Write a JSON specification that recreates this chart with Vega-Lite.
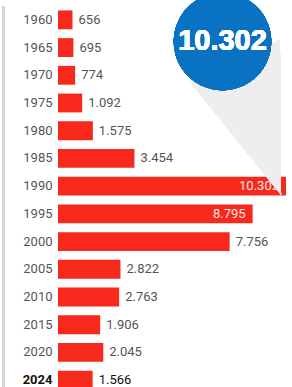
{
  "$schema": "https://vega.github.io/schema/vega-lite/v6.json",
  "width": 228,
  "height": 388,
  "autosize": "none",
  "padding": {"left": 58, "top": 6, "right": 6, "bottom": 0},
  "background": "white",
  "title": {
    "text": "Cifra en cantidad de casos",
    "anchor": "start", "frame": "group", "dx": -36, "offset": 4,
    "baseline": "alphabetic", "font": "Roboto", "fontSize": 11, "fontWeight": "normal", "color": "#777777"
  },
  "config": {
    "view": {"stroke": null},
    "locale": {"number": {"decimal": ",", "thousands": ".", "grouping": [3], "currency": ["", "€"]}}
  },
  "data": {
    "values": [
      {"year": "1960", "casos": 656},
      {"year": "1965", "casos": 695},
      {"year": "1970", "casos": 774},
      {"year": "1975", "casos": 1092},
      {"year": "1980", "casos": 1575},
      {"year": "1985", "casos": 3454},
      {"year": "1990", "casos": 10302},
      {"year": "1995", "casos": 8795},
      {"year": "2000", "casos": 7756},
      {"year": "2005", "casos": 2822},
      {"year": "2010", "casos": 2763},
      {"year": "2015", "casos": 1906},
      {"year": "2020", "casos": 2045},
      {"year": "2024", "casos": 1566}
    ]
  },
  "encoding": {
    "y": {
      "field": "year", "type": "nominal", "sort": null,
      "scale": {"paddingInner": 0.32, "paddingOuter": 0.16},
      "axis": {
        "title": null, "domain": false, "ticks": false, "tickSize": 0,
        "labelPadding": 6,
        "labelFont": "Roboto", "labelFontSize": 13,
        "labelColor": {"condition": {"test": "datum.value == '2024'", "value": "#111111"}, "value": "#555555"},
        "labelFontWeight": {"condition": {"test": "datum.value == '2024'", "value": "bold"}, "value": "normal"}
      }
    },
    "x": {
      "field": "casos", "type": "quantitative",
      "scale": {"domain": [0, 10302], "nice": false},
      "axis": null
    }
  },
  "layer": [
    {
      "mark": {"type": "rule", "color": "#d6d6d6", "strokeWidth": 1.5},
      "encoding": {"x": {"datum": -2460}, "y": null}
    },
    {"mark": {"type": "bar", "color": "#f7281c"}},
    {
      "transform": [{"filter": "datum.casos < 8000"}],
      "mark": {"type": "text", "align": "left", "dx": 6, "font": "Roboto", "fontSize": 13},
      "encoding": {
        "text": {"field": "casos", "type": "quantitative", "format": ",d"},
        "color": {"condition": {"test": "datum.year == '2024'", "value": "#111111"}, "value": "#555555"},
        "fontWeight": {"condition": {"test": "datum.year == '2024'", "value": "bold"}, "value": "normal"}
      }
    },
    {
      "transform": [{"filter": "datum.casos >= 8000"}],
      "mark": {"type": "text", "align": "right", "dx": -7, "font": "Roboto", "fontSize": 13, "color": "#ffe9e6"},
      "encoding": {
        "text": {"field": "casos", "type": "quantitative", "format": ",d"}
      }
    },
    {
      "mark": {"type": "point", "filled": true, "shape": "M -0.203 0.252 L 0.359 -0.011 L 0.366 0.958 Z", "size": 102400, "color": "#eeeeee", "opacity": 0.8, "strokeWidth": 0, "yOffset": -6},
      "encoding": {"x": {"datum": 7433}, "y": {"datum": "1965"}}
    },
    {
      "mark": {"type": "point", "filled": true, "shape": "circle", "size": 9500, "color": "#0a72c2", "opacity": 1, "yOffset": -6},
      "encoding": {"x": {"datum": 7433}, "y": {"datum": "1965"}}
    },
    {
      "mark": {"type": "text", "font": "Liberation Sans", "fontSize": 29, "fontWeight": "bold", "color": "white", "yOffset": -7, "align": "center", "baseline": "middle"},
      "encoding": {"x": {"datum": 7433}, "y": {"datum": "1965"}, "text": {"value": "10.302"}}
    }
  ]
}
